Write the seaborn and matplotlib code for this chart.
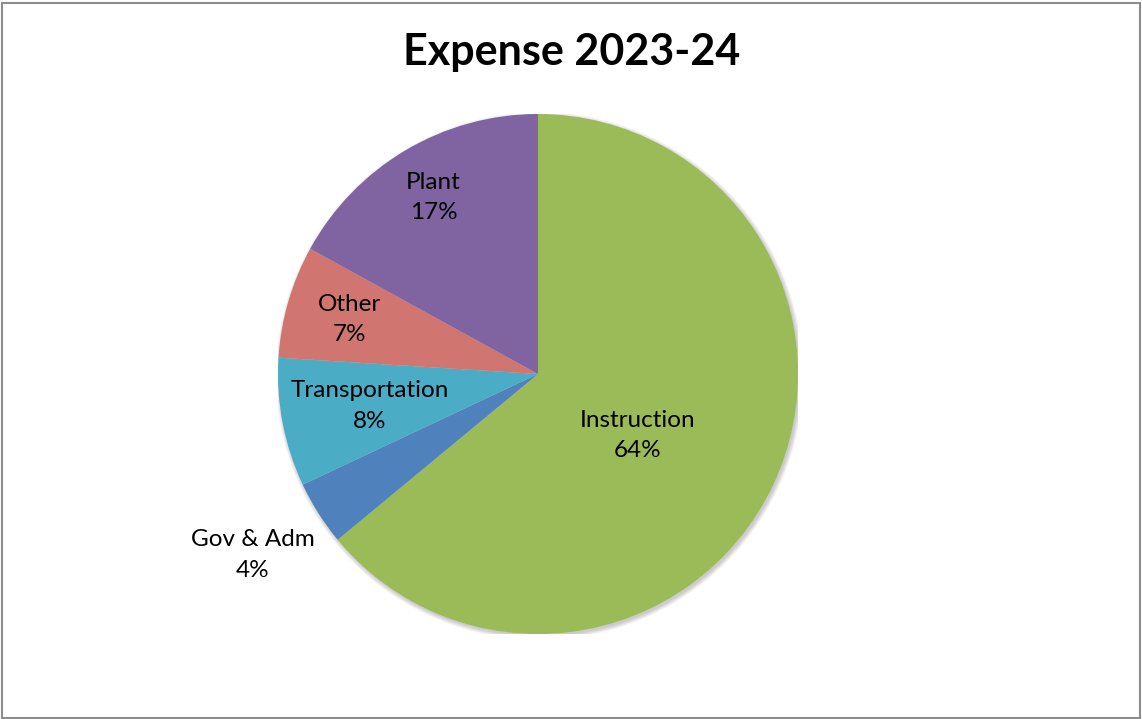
import matplotlib
matplotlib.use("Agg")
import matplotlib.pyplot as plt
import seaborn as sns
import numpy as np
from matplotlib.patches import Rectangle, Circle

# Expense breakdown, 2023-24 (clockwise from 12 o'clock)
categories = ["Instruction", "Gov & Adm", "Transportation", "Other", "Plant"]
shares = [64, 4, 8, 7, 17]
colors = ["#9BBB59", "#4F81BD", "#4BACC6", "#D07570", "#8064A2"]
# label placement: radius as a fraction of the pie radius, plus an angular nudge (deg)
label_radius = [0.45, 1.30, 0.66, 0.755, 0.79]
label_nudge = [-6.4, 0, 0, 0, 0]

sns.set_theme(style="white")
plt.rcParams["font.family"] = ["Lato", "DejaVu Sans"]

W, H = 1142, 719
fig = plt.figure(figsize=(W / 100, H / 100), dpi=100)
fig.patch.set_facecolor("white")

# pie area: centre (538, 374) px, radius 260 px
cx, cy, r = 538, 374, 260
ax = fig.add_axes([(cx - r) / W, (H - cy - r) / H, 2 * r / W, 2 * r / H])

# soft drop shadow under the pie
for k in range(6):
    ax.add_patch(Circle((0.006, -0.008), 1.0 + 0.003 * k, facecolor="black",
                        edgecolor="none", alpha=0.035, zorder=0))

wedges, _ = ax.pie(shares, colors=colors, startangle=90, counterclock=False,
                   radius=1.0, wedgeprops=dict(linewidth=0, zorder=1))

for w, cat, val, rr, nd in zip(wedges, categories, shares, label_radius, label_nudge):
    mid = np.deg2rad((w.theta1 + w.theta2) / 2 + nd)
    x, y = rr * np.cos(mid), rr * np.sin(mid)
    ax.text(x, y, f"{cat}\n{val}%", ha="center", va="center", fontsize=17.5,
            color="black", linespacing=1.55, clip_on=False, zorder=3)

ax.set_xlim(-1, 1)
ax.set_ylim(-1, 1)
ax.set_aspect("equal")
ax.axis("off")

fig.text(572 / W, 1 - 52 / H, "Expense 2023-24", ha="center", va="center",
         fontsize=31, fontweight="bold", color="black")

# chart frame
fig.patches.append(Rectangle((1.5 / W, 1.5 / H), (W - 4) / W, (H - 4) / H,
                             transform=fig.transFigure, fill=False,
                             edgecolor="#8C8C8C", linewidth=1.5))

fig.savefig("out.png", dpi=100)
